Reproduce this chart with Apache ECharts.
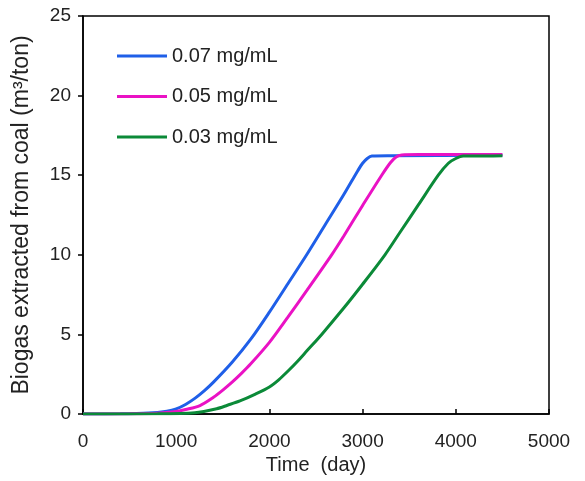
<!DOCTYPE html>
<html>
<head>
<meta charset="utf-8">
<script src="https://cdn.jsdelivr.net/npm/echarts@6/dist/echarts.min.js"></script>
<style>
  html, body { margin: 0; padding: 0; background: #fff; }
  #chart { width: 585px; height: 481px; }
</style>
</head>
<body>
<div id="chart"></div>
<script>
// Cumulative biogas yield (m³/ton) over time (days) for three nutrient concentrations.
// Each series is a list of [day, yield] pairs.
const seriesNames = ['0.07 mg/mL', '0.05 mg/mL', '0.03 mg/mL'];

const conc007 = [
  [0, 0], [400, 0.01], [700, 0.06], [900, 0.18], [1000, 0.32], [1100, 0.6],
  [1200, 0.98], [1300, 1.45], [1400, 2.0], [1600, 3.25], [1800, 4.7], [2000, 6.4],
  [2200, 8.2], [2400, 10.0], [2600, 11.9], [2800, 13.8], [2950, 15.3], [3000, 15.75],
  [3050, 16.05], [3100, 16.2], [3300, 16.22], [4500, 16.25]
];

const conc005 = [
  [0, 0], [500, 0.01], [800, 0.05], [1000, 0.16], [1100, 0.28], [1255, 0.53],
  [1400, 1.05], [1500, 1.5], [1600, 2.0], [1700, 2.55], [1800, 3.15], [2000, 4.5],
  [2200, 6.1], [2400, 7.75], [2668, 10.0], [2800, 11.2], [3000, 13.1], [3205, 15.0],
  [3300, 15.8], [3360, 16.15], [3420, 16.27], [3600, 16.3], [4500, 16.3]
];

const conc003 = [
  [0, 0], [800, 0.01], [1200, 0.08], [1434, 0.33], [1550, 0.55], [1684, 0.82],
  [1850, 1.25], [2000, 1.7], [2100, 2.15], [2200, 2.7], [2300, 3.3], [2400, 3.95],
  [2561, 5.0], [2800, 6.67], [3000, 8.15], [3240, 10.0], [3400, 11.4], [3600, 13.15],
  [3812, 15.0], [3920, 15.75], [4000, 16.05], [4080, 16.2], [4200, 16.2], [4500, 16.22]
];

const seriesColors = ['#1f5fe8', '#ea12c4', '#0b8a38'];
const xTicks = { min: 0, max: 5000, step: 1000 };
const yTicks = { min: 0, max: 25, step: 5 };

const FONT = '"Liberation Sans", Arial, sans-serif';

const chart = echarts.init(document.getElementById('chart'), null, { renderer: 'canvas' });

const dataSets = [conc007, conc005, conc003];

chart.setOption({
  animation: false,
  backgroundColor: '#ffffff',
  grid: {
    left: 83, right: 36, top: 16, bottom: 67,
    outerBoundsMode: 'none',
    containLabel: false,
    show: true, borderColor: '#000', borderWidth: 1.5, backgroundColor: 'transparent'
  },
  legend: {
    orient: 'vertical',
    left: 117,
    top: 46,
    padding: 0,
    itemWidth: 50,
    itemHeight: 3,
    itemGap: 20.5,
    icon: 'rect',
    textStyle: { fontFamily: FONT, fontSize: 20, color: '#222', lineHeight: 20 },
    data: seriesNames
  },
  xAxis: {
    type: 'value',
    min: xTicks.min, max: xTicks.max, interval: xTicks.step,
    name: 'Time  (day)',
    nameLocation: 'middle',
    nameGap: 40,
    nameTextStyle: { fontFamily: FONT, fontSize: 20, color: '#222' },
    axisLine: { onZero: false, lineStyle: { color: '#000', width: 1.5 } },
    axisTick: { inside: true, length: 5, lineStyle: { color: '#000', width: 1.5 } },
    axisLabel: {
      fontFamily: FONT, fontSize: 19, color: '#222', margin: 18,
      formatter: (v) => String(v)
    },
    splitLine: { show: false }
  },
  yAxis: {
    type: 'value',
    min: yTicks.min, max: yTicks.max, interval: yTicks.step,
    name: 'Biogas extracted from coal (m³/ton)',
    nameLocation: 'middle',
    nameGap: 50,
    nameRotate: 90,
    nameTextStyle: { fontFamily: FONT, fontSize: 23, color: '#222' },
    axisLine: { show: true, lineStyle: { color: '#000', width: 1.5 } },
    axisTick: { show: true, inside: false, length: 5, lineStyle: { color: '#000', width: 1.5 } },
    axisLabel: {
      fontFamily: FONT, fontSize: 19, color: '#222', margin: 12,
      formatter: (v) => String(v)
    },
    splitLine: { show: false }
  },
  series: seriesNames.map((name, i) => ({
    name: name,
    type: 'line',
    data: dataSets[i],
    smooth: 0.3,
    symbol: 'none',
    color: seriesColors[i],
    lineStyle: { width: 3, color: seriesColors[i] },
    z: 3 + i
  }))
});
</script>
</body>
</html>
